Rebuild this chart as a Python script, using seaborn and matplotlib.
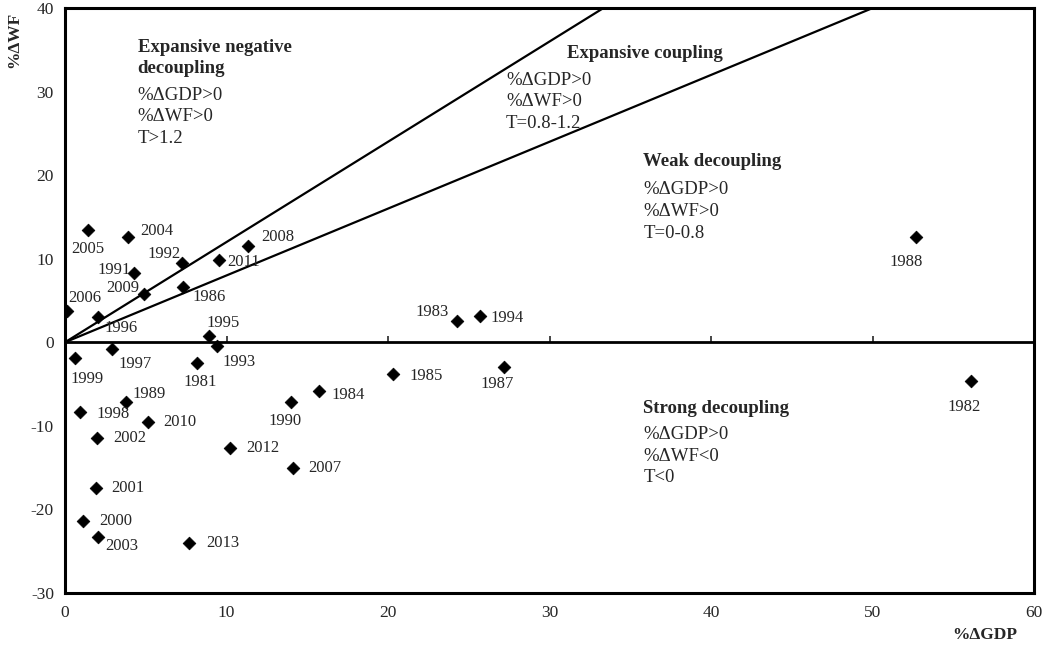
import numpy as np
import pandas as pd
import matplotlib.pyplot as plt
import seaborn as sns

# yearly change rates
years = [1981, 1982, 1983, 1984, 1985, 1986, 1987, 1988, 1989, 1990,
         1991, 1992, 1993, 1994, 1995, 1996, 1997, 1998, 1999, 2000,
         2001, 2002, 2003, 2004, 2005, 2006, 2007, 2008, 2009, 2010,
         2011, 2012, 2013]
gdp = [8.2, 56.1, 24.3, 15.7, 20.3, 7.3, 27.2, 52.7, 3.8, 14.0,
       4.3, 7.25, 9.4, 25.7, 8.9, 2.05, 2.9, 0.9, 0.6, 1.1,
       1.9, 2.0, 2.05, 3.9, 1.45, 0.1, 14.1, 11.35, 4.9, 5.15,
       9.55, 10.2, 7.7]
wf = [-2.5, -4.6, 2.5, -5.8, -3.8, 6.6, -2.9, 12.6, -7.1, -7.1,
      8.3, 9.5, -0.5, 3.1, 0.7, 3.0, -0.8, -8.4, -1.9, -21.4,
      -17.4, -11.5, -23.3, 12.6, 13.4, 3.7, -15.1, 11.5, 5.8, -9.6,
      9.8, -12.6, -24.0]

# label offsets in pixels (dx, dy up)
offsets = {
    1981: (3, -19), 1982: (-7, -26), 1983: (-25, 9), 1984: (30, -4),
    1985: (33, -2), 1986: (26, -10), 1987: (-7, -17), 1988: (-10, -25),
    1989: (23, 8), 1990: (-6, -19), 1991: (-20, 3), 1992: (-18, 9),
    1993: (22, -16), 1994: (27, -2), 1995: (14, 13), 1996: (23, -11),
    1997: (23, -15), 1998: (34, -2), 1999: (12, -21), 2000: (33, 0),
    2001: (32, 0), 2002: (32, 0), 2003: (24, -9), 2004: (29, 6),
    2005: (-1, -19), 2006: (18, 13), 2007: (32, 0), 2008: (30, 9),
    2009: (-21, 6), 2010: (32, 0), 2011: (24, -2), 2012: (33, 0),
    2013: (33, 0),
}

slopes = [1.2, 0.8]

df = pd.DataFrame({'year': years, 'gdp': gdp, 'wf': wf})

sns.set_style('white')
plt.rcParams['font.family'] = ['Liberation Serif', 'DejaVu Serif']
plt.rcParams['axes.unicode_minus'] = False

fig = plt.figure(figsize=(10.45, 6.48), dpi=100)
ax = fig.add_axes([0.0622, 0.085, 0.9273, 0.9025])

xmin, xmax, ymin, ymax = 0, 60, -30, 40

# T=1.2 and T=0.8 boundary lines
xs = np.linspace(0, xmax, 200)
for k in slopes:
    ax.plot(xs, k * xs, color='black', lw=1.6)
ax.axhline(0, color='black', lw=2)

sns.scatterplot(data=df, x='gdp', y='wf', marker='D', color='black',
                edgecolor='black', s=42, ax=ax, zorder=3)

for _, r in df.iterrows():
    dx, dy = offsets[int(r['year'])]
    ax.annotate(str(int(r['year'])), (r['gdp'], r['wf']), xytext=(dx, dy),
                textcoords='offset pixels', ha='center', va='center',
                fontsize=12)

ax.set_xlim(xmin, xmax)
ax.set_ylim(ymin, ymax)
ax.set_xticks(range(0, 61, 10))
ax.set_yticks(range(-30, 41, 10))
ax.tick_params(axis='x', length=0, pad=9, labelsize=12.5)
ax.tick_params(axis='y', direction='in', length=4, width=1.8, pad=8, labelsize=12.5)
for s in ax.spines.values():
    s.set_linewidth(2.2)
    s.set_color('black')

# ticks along the zero line
sec = ax.secondary_xaxis((0 - ymin) / (ymax - ymin))
sec.set_xticks(range(0, 61, 10))
for s in sec.spines.values():
    s.set_visible(False)
sec.xaxis.set_ticks_position('bottom')
sec.tick_params(direction='in', length=4, width=1.2, labelbottom=False, labeltop=False)

ax.set_xlabel('%ΔGDP', fontweight='bold', fontsize=12.5)
ax.xaxis.set_label_coords(0.949, -0.058)
ax.set_ylabel('')
fig.text(14 / 1045, 1 - 40 / 648, '%ΔWF', rotation=90, fontweight='bold',
         fontsize=12.5, ha='center', va='center')

head = dict(fontsize=13.5, fontweight='bold', va='top', ha='left')
body = dict(fontsize=13.5, va='top', ha='left', linespacing=1.37)
ax.text(4.5, 36.3, 'Expansive negative\ndecoupling', linespacing=1.32, **head)
ax.text(4.5, 30.6, '%ΔGDP>0\n%ΔWF>0\nT>1.2', **body)
ax.text(31.1, 35.6, 'Expansive coupling', **head)
ax.text(27.3, 32.4, '%ΔGDP>0\n%ΔWF>0\nT=0.8-1.2', **body)
ax.text(35.8, 22.6, 'Weak decoupling', **head)
ax.text(35.8, 19.3, '%ΔGDP>0\n%ΔWF>0\nT=0-0.8', **body)
ax.text(35.8, -6.9, 'Strong decoupling', **head)
ax.text(35.8, -10.0, '%ΔGDP>0\n%ΔWF<0\nT<0', **body)

fig.savefig('out.png', dpi=100)
